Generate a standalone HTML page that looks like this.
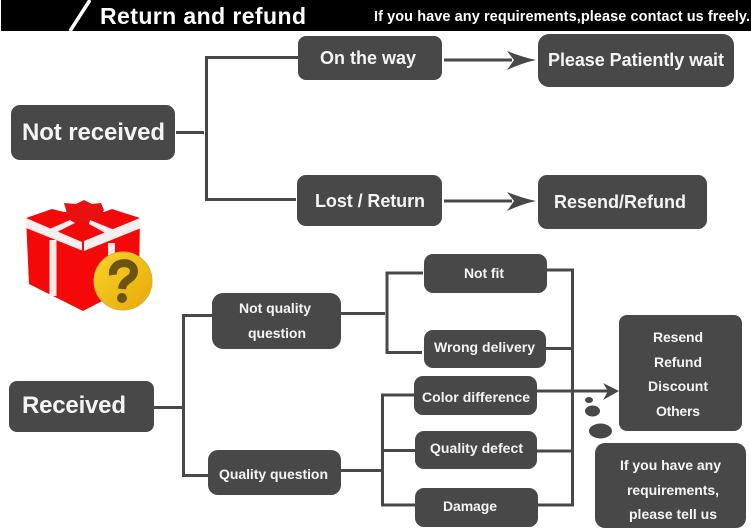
<!DOCTYPE html>
<html><head><meta charset="utf-8"><style>
html,body{margin:0;padding:0;background:#fff;width:751px;height:531px;overflow:hidden}
svg{display:block;filter:blur(0.3px)}
text{font-family:"Liberation Sans",sans-serif;font-weight:bold;fill:#f4f4f4}
.b{fill:#484848}
.l{fill:none;stroke:#484848;stroke-width:3}
</style></head><body>
<svg width="751" height="531" viewBox="0 0 751 531" xmlns="http://www.w3.org/2000/svg">
<defs><linearGradient id="g" x1="0" y1="0" x2="1" y2="1"><stop offset="0" stop-color="#f6d428"/><stop offset="1" stop-color="#e8a808"/></linearGradient></defs>
<rect x="1" y="0" width="750" height="31" fill="#000"/>
<path d="M70 31L90 0" stroke="#fff" stroke-width="3.5" fill="none"/>
<text x="100" y="24" font-size="23" textLength="206" lengthAdjust="spacing" style="fill:#fff">Return and refund</text>
<text x="374" y="21" font-size="14.5" textLength="376" lengthAdjust="spacing" style="fill:#fff">If you have any requirements,please contact us freely.</text>

<!-- connectors -->
<path class="l" d="M176 132.500H204M298 57.500H206.500V199.500H296"/>
<path class="l" d="M444 60H512M444 201H512"/>
<path d="M507 51Q522 57 536 60Q522 63 507 70L514 60Z" class="b"/>
<path d="M507 192Q522 198 536 201Q522 204 507 211L514 201Z" class="b"/>
<path class="l" d="M154 407.500H182M212 315.500H183.500V475.500H208"/>
<path class="l" d="M341 313.500H385M423 273H387V352.500H422"/>
<path class="l" d="M341 470.500H381M414 395H382.500V505H415M383 450.500H415"/>
<path class="l" d="M547 270H572.500V505H538M546 348.500H572M537 451H572"/>
<path class="l" d="M537 391H610"/>
<path d="M603 383L619 391L603 400L608 391Z" class="b"/>

<!-- boxes -->
<rect class="b" x="11" y="105" width="164" height="55" rx="9"/>
<rect class="b" x="298" y="36" width="144" height="44" rx="8"/>
<rect class="b" x="538" y="34" width="196" height="53" rx="11"/>
<rect class="b" x="297" y="175" width="145" height="51" rx="9"/>
<rect class="b" x="538" y="175" width="169" height="54" rx="9"/>
<rect class="b" x="212" y="293" width="129" height="56" rx="11"/>
<rect class="b" x="208" y="450" width="133" height="45" rx="10"/>
<rect class="b" x="9" y="381" width="145" height="51" rx="8"/>
<rect class="b" x="424" y="254" width="123" height="39" rx="9"/>
<rect class="b" x="424" y="330" width="122" height="38" rx="9"/>
<rect class="b" x="414" y="376" width="123" height="39" rx="9"/>
<rect class="b" x="415" y="431" width="122" height="38" rx="9"/>
<rect class="b" x="415" y="488" width="123" height="39" rx="9"/>
<rect class="b" x="619" y="315" width="123" height="116" rx="8"/>
<rect class="b" x="595" y="443" width="151" height="85" rx="10"/>

<!-- thought dots -->
<ellipse class="b" cx="589" cy="400" rx="4" ry="3"/>
<ellipse class="b" cx="592.500" cy="411" rx="7.500" ry="5.500"/>
<ellipse class="b" cx="600.500" cy="431" rx="11.500" ry="7.500"/>

<!-- labels -->
<text x="22" y="140" font-size="24" textLength="143">Not received</text>
<text x="320" y="64" font-size="18" textLength="96">On the way</text>
<text x="548" y="66" font-size="18" textLength="176">Please Patiently wait</text>
<text x="315" y="207" font-size="18" textLength="110">Lost / Return</text>
<text x="554" y="208" font-size="18" textLength="132">Resend/Refund</text>
<text x="239" y="313" font-size="14" textLength="72">Not quality</text>
<text x="248" y="338" font-size="14" textLength="58">question</text>
<text x="219" y="479" font-size="14" textLength="109">Quality question</text>
<text x="22" y="413" font-size="24" textLength="104">Received</text>
<text x="464" y="278" font-size="14" textLength="40">Not fit</text>
<text x="434" y="352" font-size="14" textLength="101">Wrong delivery</text>
<text x="422" y="402" font-size="14" textLength="108">Color difference</text>
<text x="430" y="453" font-size="14" textLength="93">Quality defect</text>
<text x="443" y="511" font-size="14" textLength="54">Damage</text>
<text x="653" y="342" font-size="14" textLength="50">Resend</text>
<text x="654" y="367" font-size="14" textLength="48">Refund</text>
<text x="648" y="391" font-size="14" textLength="60">Discount</text>
<text x="656" y="416" font-size="14" textLength="44">Others</text>
<text x="620" y="470" font-size="14" textLength="101">If you have any</text>
<text x="627" y="495" font-size="14" textLength="92">requirements,</text>
<text x="629" y="519" font-size="14" textLength="88">please tell us</text>

<!-- gift box -->
<g>
<path d="M26 218L52 209L64 212L104 212L112 209L140 218L139 282L83 311L29 284Z" fill="#f40808"/>
<path d="M64 203L76 204L84 200L92 204L101 203L104 210L100 217L92 222L76 222L68 217Z" fill="#e81010"/>
<path d="M26 218L82 242L82 250.500L26 228Z" fill="#f6eeee"/>
<path d="M84 241L140 218L140 228.500L84 251Z" fill="#f6eeee"/>
<path d="M45 231L70 220L75 223L57 232L52 234Z" fill="#f6eeee"/>
<path d="M90 220L117 231L109 235L89 224Z" fill="#f6eeee"/>
<rect x="49.500" y="240" width="7" height="56" fill="#f8e8e8"/>
<rect x="108" y="243" width="7" height="22" fill="#f8e8e8"/>
<circle cx="123" cy="281" r="29" fill="url(#g)" stroke="#d8b030" stroke-width="1"/>
<path d="M113 275C111 261 133 259 134 271C134 280 123 279 122 289" fill="none" stroke="#6b5310" stroke-width="8"/>
<circle cx="122" cy="298" r="5" fill="#6b5310"/>
</g>
</svg>
</body></html>
